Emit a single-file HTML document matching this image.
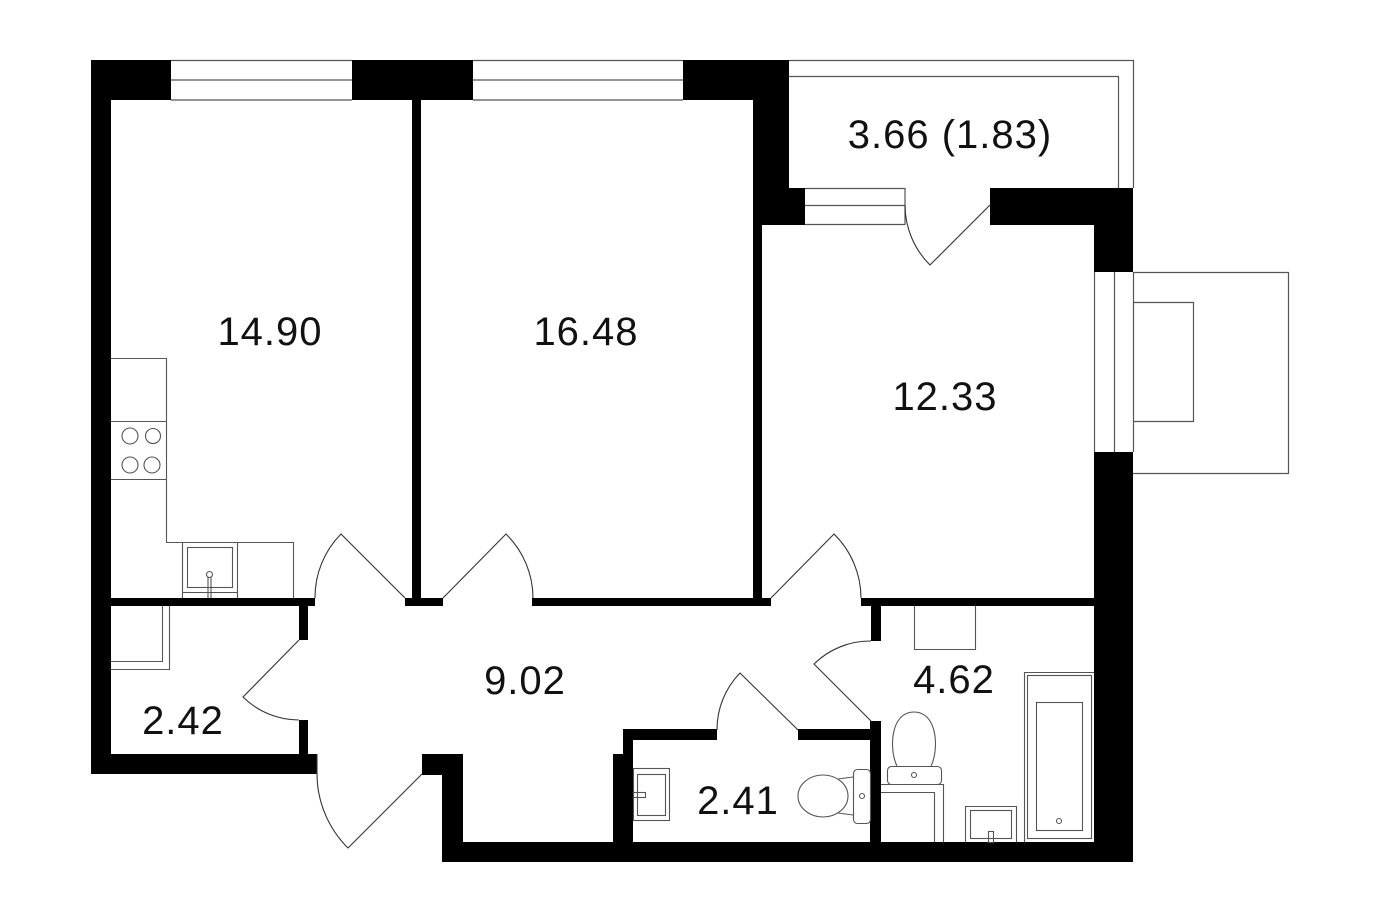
<!DOCTYPE html>
<html><head><meta charset="utf-8"><style>
html,body{margin:0;padding:0;background:#fff;}
svg{display:block;}
text{font-family:"Liberation Sans",sans-serif;font-size:40px;fill:#111;letter-spacing:1px;}
</style></head><body>
<svg width="1379" height="923" viewBox="0 0 1379 923" xmlns="http://www.w3.org/2000/svg">
<rect width="1379" height="923" fill="#fff"/>
<!-- windows top -->
<g stroke="#555" stroke-width="1.2" fill="none">
<path d="M171 60.5H352M171 80H352M171 100H352"/>
<path d="M473 60.5H683M473 80H683M473 100H683"/>
<!-- balcony -->
<path d="M789 60.5H1133.5V188M789 76.5H1118.5V188"/>
<!-- balcony door window -->
<path d="M805 188.5H905V225M805 205.5H905M805 224.5H905"/>
<!-- right window -->
<path d="M1094.5 272V452M1114.5 272V452M1133.5 272V452"/>
<!-- AC box -->
<path d="M1133 272.5H1288.5V473.5H1133"/>
<path d="M1133 302.5H1193.5V421.5H1133"/>
</g>
<!-- walls -->
<g fill="#000">
<rect x="91" y="60" width="80" height="40"/>
<rect x="91" y="60" width="20" height="714"/>
<rect x="352" y="60" width="121" height="40"/>
<rect x="412" y="100" width="9" height="506"/>
<rect x="683" y="60" width="106" height="40"/>
<rect x="753" y="60" width="36" height="128"/>
<rect x="753" y="188" width="52" height="37"/>
<rect x="753" y="225" width="9" height="381"/>
<rect x="990" y="188" width="143" height="37"/>
<rect x="1094" y="225" width="39" height="47"/>
<rect x="1094" y="452" width="39" height="410"/>
<rect x="111" y="598" width="204" height="8"/>
<rect x="405" y="598" width="38" height="8"/>
<rect x="532" y="598" width="239" height="8"/>
<rect x="861" y="598" width="233" height="8"/>
<rect x="299" y="606" width="9" height="34"/>
<rect x="299" y="720" width="9" height="34"/>
<rect x="91" y="754" width="226" height="20"/>
<rect x="422" y="754" width="41" height="21"/>
<rect x="442" y="754" width="21" height="108"/>
<rect x="442" y="842" width="691" height="20"/>
<rect x="613" y="754" width="20" height="88"/>
<rect x="623" y="729" width="10" height="25"/>
<rect x="623" y="729" width="94" height="11"/>
<rect x="798" y="729" width="82" height="11"/>
<rect x="870" y="721" width="11" height="121"/>
<rect x="871" y="606" width="10" height="35"/>
</g>
<!-- doors -->
<g stroke="#333" stroke-width="1.1" fill="none">
<path d="M990 205L930 265A85 85 0 0 1 905 205"/>
<path d="M405 598L341 534A90 90 0 0 0 315 598"/>
<path d="M443 598L506 534A90 90 0 0 1 533 598"/>
<path d="M771 598L834 534A90 90 0 0 1 861 598"/>
<path d="M299 640L243 697A80 80 0 0 0 299 720"/>
<path d="M422 774L348 848A105 105 0 0 1 317 774V754"/>
<path d="M798 730L740 673A81 81 0 0 0 717 730"/>
<path d="M871 721L814 664A80 80 0 0 1 871 641"/>
</g>
<!-- kitchen -->
<g stroke="#555" stroke-width="1.1" fill="none">
<path d="M111 358.5H166.5V542.5H293.5V598"/>
<path d="M111 421.5H166M111 479.5H166"/>
<circle cx="130" cy="436" r="8"/>
<circle cx="153" cy="436" r="7.5"/>
<circle cx="130" cy="465" r="8"/>
<circle cx="152" cy="465" r="8"/>
<path d="M182.5 542V598M237.5 542V598"/>
<rect x="187.5" y="547.5" width="45" height="40"/>
<path d="M182 592.5H237"/>
<circle cx="209.5" cy="574.5" r="3"/>
<path d="M208 577.5V598M211 577.5V598"/>
<!-- storage shelves -->
<path d="M111 661.5H162.5V606M111 669.5H169.5V606"/>
<!-- WC -->
<rect x="633.5" y="768.5" width="36" height="52"/>
<rect x="637.5" y="774.5" width="28" height="41"/>
<rect x="633.5" y="792.5" width="12" height="5"/>
<ellipse cx="823" cy="796" rx="25" ry="21"/>
<path d="M838 779L853 777M838 813L853 815"/>
<rect x="853.5" y="769.5" width="17" height="54" rx="4"/>
<circle cx="862" cy="796" r="2.5"/>
<!-- bathroom -->
<path d="M914.5 606V649.5H975.5V606"/>
<path d="M897 766C889 750 890 712 914 712C938 712 939 750 931 766"/>
<rect x="887.5" y="766.5" width="54" height="18" rx="4"/>
<circle cx="914" cy="775" r="2.5"/>
<path d="M881 784.5H943.5V842M881 792.5H934.5V842"/>
<path d="M965.5 842V806.5H1016.5V842"/>
<rect x="970.5" y="810.5" width="41" height="28"/>
<rect x="988.5" y="831.5" width="5" height="11"/>
<path d="M1024.5 842V672.5H1094"/>
<rect x="1027.5" y="675.5" width="64" height="163"/>
<rect x="1036.5" y="702.5" width="46" height="128"/>
<circle cx="1059" cy="821" r="2.5"/>
</g>
<!-- labels -->
<text x="270" y="345" text-anchor="middle">14.90</text>
<text x="586" y="345" text-anchor="middle">16.48</text>
<text x="945" y="410" text-anchor="middle">12.33</text>
<text x="950" y="148" text-anchor="middle">3.66 (1.83)</text>
<text x="525" y="694" text-anchor="middle">9.02</text>
<text x="183" y="734" text-anchor="middle">2.42</text>
<text x="954" y="693" text-anchor="middle">4.62</text>
<text x="738" y="814" text-anchor="middle">2.41</text>
</svg>
</body></html>
